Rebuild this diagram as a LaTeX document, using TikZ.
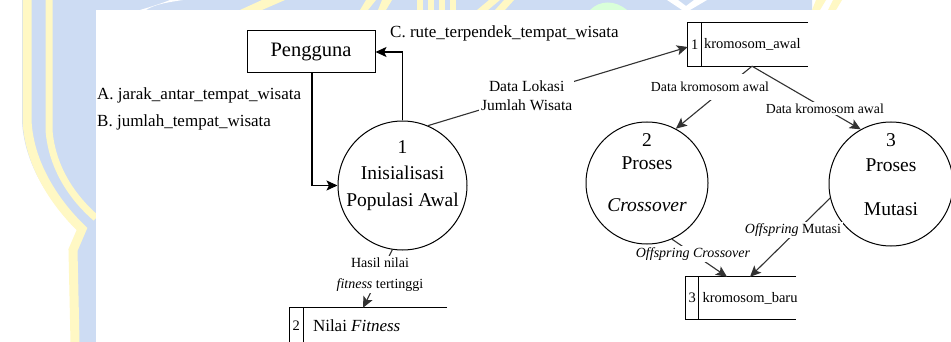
\documentclass[tikz,border=0pt]{standalone}
\usepackage{fontspec}
\setmainfont{Liberation Serif}
\usetikzlibrary{arrows.meta,calc}
\definecolor{wmblue}{RGB}{205,220,243}
\definecolor{wmyellow}{RGB}{255,248,196}
\definecolor{flowgray}{RGB}{50,50,50}
\begin{document}
\begin{tikzpicture}[x=1pt,y=-1pt,
  proc/.style={circle,draw,line width=1pt,inner sep=0pt},
  ptxt/.style={font=\rmfamily\fontsize{19.5}{23}\selectfont,inner sep=0pt,text height=1.5ex,text depth=.25ex},
  entity/.style={rectangle,draw,line width=1pt,minimum width=128pt,minimum height=42pt,
                 font=\rmfamily\fontsize{20.5}{24}\selectfont},
  store/.style={rectangle,inner sep=0pt},
  storeline/.style={line width=1.1pt},
  stxt/.style={inner sep=0pt,font=\rmfamily\fontsize{14.5}{17}\selectfont},
  sttxt/.style={inner sep=0pt,font=\rmfamily\fontsize{17}{20}\selectfont},
  iolabel/.style={inner sep=0pt,anchor=west,font=\rmfamily\fontsize{17}{20}\selectfont},
  flow/.style={line width=1.1pt,-{Stealth[length=11pt,width=10pt,inset=2.5pt]}},
  dflow/.style={flow,draw=flowgray},
  flowlbl/.style={fill=white,inner sep=2pt,align=center,font=\rmfamily\fontsize{14}{21}\selectfont},
  smalllbl/.style={fill=white,inner sep=2pt,align=center,font=\rmfamily\fontsize{13.8}{16}\selectfont}]

% page and watermark background
\useasboundingbox (0,0) rectangle (951,342);
\fill[white] (0,0) rectangle (951,342);
\fill[wmblue] (22,0) -- (812,0) -- (812,10) -- (96,10) -- (96,342) -- (72,342)
  -- (70,252) -- (82,231) .. controls (58,212) and (24,170) .. (22,120) -- cycle;
\draw[wmyellow,line width=9pt] (27,0) -- (27,120) .. controls (29,168) and (60,208) .. (82,229)
  -- (73,250) -- (75,342);
\draw[wmyellow,line width=7pt] (49,0) -- (49,130) .. controls (52,170) and (75,200) .. (96,218);
\fill[white] (146,10) .. controls (155,4) and (170,2) .. (183,0) -- (170,0) .. controls (160,4) and (150,7) .. (140,10) -- cycle;
\fill[wmyellow] (240,10) -- (262,10) -- (285,0) -- (262,0) -- cycle;
\fill[wmyellow] (360,10) -- (368,10) -- (376,0) -- (366,0) -- cycle;
\fill[wmyellow] (378,10) -- (386,10) -- (392,0) -- (382,0) -- cycle;
\foreach \xx in {417,428,439,450} {\fill[wmyellow] (\xx,10) rectangle ++(6,-10);}
\fill[wmyellow] (477,10) -- (488,10) -- (500,0) -- (489,0) -- cycle;
\fill[wmyellow] (495,10) -- (505,10) -- (514,0) -- (504,0) -- cycle;
\fill[white!85!green] (590,10) .. controls (600,0) and (615,0) .. (627,10) -- cycle;
\fill[white] (667,0) -- (678,0) -- (686,6) -- (694,0) -- (707,0) -- (690,10) -- (682,10) -- cycle;
\fill[wmyellow] (812,10) -- (820,10) -- (826,0) -- (816,0) -- cycle;
\fill[wmyellow] (828,10) -- (836,10) -- (842,0) -- (833,0) -- cycle;
\fill[white] (96,10) rectangle (951,342);

% external entity
\node[entity] (peng) at (311,52) {Pengguna};

% processes
\node[proc,minimum size=129pt] (c1) at (402.5,185.5) {};
\node[ptxt] at ($(c1)+(0,-35)$) {1};
\node[ptxt] at ($(c1)+(0,-9)$) {Inisialisasi};
\node[ptxt] at ($(c1)+(0,18)$) {Populasi Awal};

\node[proc,minimum size=122pt] (c2) at (647,183) {};
\node[ptxt] at ($(c2)+(0,-39.5)$) {2};
\node[ptxt] at ($(c2)+(0,-16.5)$) {Proses};
\node[ptxt] at ($(c2)+(0,25.5)$) {\textit{Crossover}};

\node[proc,minimum size=124pt] (c3) at (891,184) {};
\node[ptxt] at ($(c3)+(0,-40.5)$) {3};
\node[ptxt] at ($(c3)+(0,-15.5)$) {Proses};
\node[ptxt] at ($(c3)+(0,29)$) {Mutasi};

% data stores
\node[store,minimum width=120pt,minimum height=43pt] (ds1) at (748,44.5) {};
\draw[storeline] (ds1.north east) -- (ds1.north west) -- (ds1.south west) -- (ds1.south east);
\draw[storeline] ($(ds1.north west)+(14,0)$) -- ($(ds1.south west)+(14,0)$);
\node[stxt] at ($(ds1.west)+(7,0)$) {1};
\node[stxt,anchor=west] at ($(ds1.west)+(16,0)$) {kromosom\_awal};

\node[store,minimum width=157pt,minimum height=42pt] (ds2) at (368.5,329) {};
\draw[storeline] (ds2.north east) -- (ds2.north west) -- (ds2.south west) -- (ds2.south east);
\draw[storeline] ($(ds2.north west)+(14,0)$) -- ($(ds2.south west)+(14,0)$);
\node[stxt] at ($(ds2.west)+(6.5,-3)$) {2};
\node[sttxt,anchor=west] at ($(ds2.west)+(23,-3)$) {Nilai \textit{Fitness}};

\node[store,minimum width=110pt,minimum height=42pt] (ds3) at (741,298) {};
\draw[storeline] (ds3.north east) -- (ds3.north west) -- (ds3.south west) -- (ds3.south east);
\draw[storeline] ($(ds3.north west)+(13,0)$) -- ($(ds3.south west)+(13,0)$);
\node[stxt] at ($(ds3.west)+(6.5,0)$) {3};
\node[stxt,anchor=west] at ($(ds3.west)+(16.5,0)$) {kromosom\_baru};

% flows
\draw[flow] ($(peng.south)+(1,0)$) |- (c1.west);
\draw[flow] (c1.north) |- (peng.east);
\draw[dflow] (c1.67) -- ($(ds1.west)+(0,2.5)$)
  node[flowlbl,pos=0.38,font=\rmfamily\fontsize{15.5}{19}\selectfont] {Data Lokasi\\Jumlah Wisata};
\draw[dflow] ($(ds1.south)+(4,0)$) -- (c2.62);
\node[smalllbl,inner ysep=8pt] at (710,87) {Data kromosom awal};
\draw[dflow] ($(ds1.south)+(4,0)$) -- (c3.119)
  node[smalllbl,pos=0.67] {Data kromosom awal};
\draw[dflow] (c1.-99) -- ($(ds2.north)+(-5.5,0)$);
\node[flowlbl] at (380,274.5) {Hasil nilai\\\textit{fitness} tertinggi};
\draw[dflow] (c2.-66) -- ($(ds3.north)+(-14,0)$);
\node[flowlbl] at (693,254) {\textit{Offspring Crossover}};
\draw[dflow] (c3.-167) -- ($(ds3.north)+(9,0)$);
\node[flowlbl] at (793,230) {\textit{Offspring} Mutasi};

% flow labels beside the entity
\node[iolabel] (la) at (97,95) {A. jarak\_antar\_tempat\_wisata};
\node[iolabel] (lb) at (97,122) {B. jumlah\_tempat\_wisata};
\node[iolabel] (lc) at (390,33) {C. rute\_terpendek\_tempat\_wisata};
\end{tikzpicture}
\end{document}
